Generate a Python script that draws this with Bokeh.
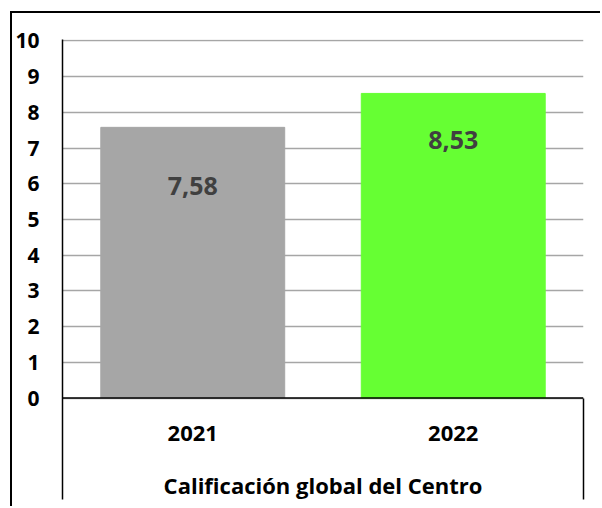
from bokeh.plotting import figure
from bokeh.models import (Range1d, FixedTicker, LinearAxis, Span, ColumnDataSource)
from bokeh.core.properties import value
from bokeh.embed import file_html
from bokeh.resources import INLINE
import numpy as np

# ---- data ----
years = ["2021", "2022"]
scores = [7.58, 8.53]
bar_colors = ["#A6A6A6", "#66FF33"]
y_ticks = [0, 1, 2, 3, 4, 5, 6, 7, 8, 9, 10]
x_title = "Calificación global del Centro"

# ---- layout constants ----
FONT = "Open Sans"
y_bottom = -2.84          # frame extends below 0 for the category panel
y_top = 10.04
label_drop = [1.65, 1.31]  # value label offset below bar top
cat_label_y = -1.0
title_y = -2.44

xs = np.arange(len(years)) + 0.5
labels = [f"{v:.2f}".replace(".", ",") for v in scores]
label_y = [v - d for v, d in zip(scores, label_drop)]

src = ColumnDataSource(dict(x=xs, top=scores, color=bar_colors,
                            label=labels, ly=label_y,
                            cat=years, cy=[cat_label_y] * len(years)))

p = figure(width=590, height=495, output_backend="svg", toolbar_location=None,
           x_range=Range1d(0, len(years)), y_range=Range1d(y_bottom, y_top),
           min_border_left=47, min_border_right=19, min_border_top=26,
           min_border_bottom=9, x_axis_location=None, y_axis_location=None)
p.styles = {"border-left": "2px solid #000", "border-top": "2px solid #000",
            "margin-left": "10px", "margin-top": "11px"}
p.outline_line_color = None
p.background_fill_color = "white"
p.border_fill_color = "white"

# left axis (line spans whole frame height)
yax = LinearAxis(ticker=FixedTicker(ticks=y_ticks))
yax.axis_line_color = "black"
yax.axis_line_width = 1.5
yax.major_tick_line_color = None
yax.minor_tick_line_color = None
yax.major_label_standoff = 17
yax.major_label_text_font = FONT
yax.major_label_text_font_style = "bold"
yax.major_label_text_font_size = "21px"
yax.major_label_text_color = "black"
p.add_layout(yax, "left")

# right separator line, below zero only
rax = LinearAxis(ticker=FixedTicker(ticks=[]), bounds=(y_bottom, 0))
rax.axis_line_color = "black"
rax.axis_line_width = 1.5
rax.major_tick_line_color = None
rax.minor_tick_line_color = None
rax.major_label_text_font_size = "0px"
rax.major_label_standoff = 0
p.add_layout(rax, "right")

p.xgrid.grid_line_color = None
for g in p.grid:
    if g.dimension == 1:
        g.ticker = FixedTicker(ticks=y_ticks)
        g.grid_line_color = "#A6A6A6"
        g.grid_line_width = 1.5

p.vbar(x="x", top="top", bottom=0, width=0.706, color="color", source=src)

p.add_layout(Span(location=0, dimension="width", line_color="black", line_width=1.5))

p.text(x="x", y="ly", text="label", source=src, text_align="center",
       text_baseline="middle", text_font=value(FONT), text_font_style="bold",
       text_font_size="25px", text_color="#404040")

p.text(x="x", y="cy", text="cat", source=src, text_align="center",
       text_baseline="middle", text_font=value(FONT), text_font_style="bold",
       text_font_size="22px", text_color="black")

p.text(x=[len(years) / 2], y=[title_y], text=[x_title], text_align="center",
       text_baseline="middle", text_font=value(FONT), text_font_style="bold",
       text_font_size="22px", text_color="black")

open("out.html", "w").write(file_html(p, INLINE))
